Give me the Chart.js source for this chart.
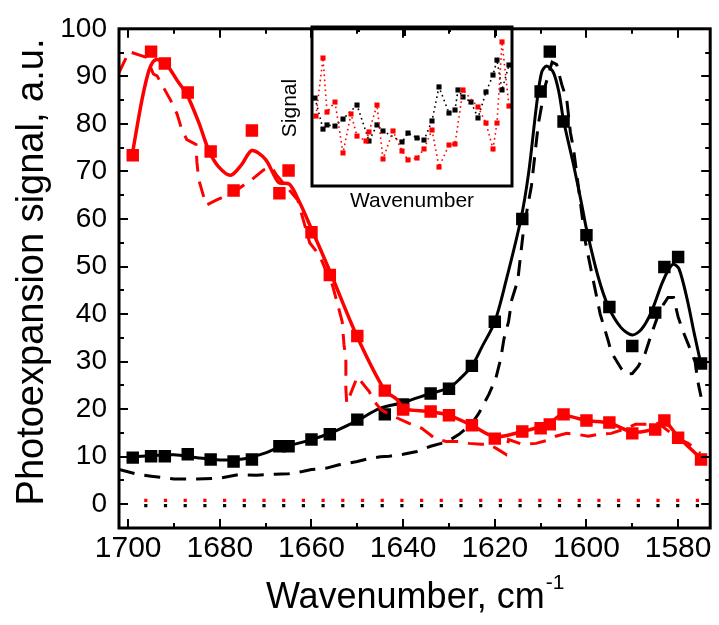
<!DOCTYPE html>
<html>
<head>
<meta charset="utf-8">
<script src="https://cdn.jsdelivr.net/npm/chart.js@4"></script>
<style>
  html, body { margin: 0; padding: 0; background: #fff; }
  #wrap { position: relative; width: 719px; height: 625px; }
  #main { position: absolute; left: 0; top: 0; }
  #inset { position: absolute; left: 270px; top: 15px; }
</style>
</head>
<body>
<div id="wrap">
  <canvas id="main" width="719" height="625"></canvas>
  <canvas id="inset" width="250" height="205"></canvas>
</div>
<script>
// 测量点（方块）
const wavenumbers = [1699, 1695, 1692, 1687, 1682, 1677, 1673, 1667, 1665, 1660, 1656, 1650, 1644, 1640,
  1634, 1630, 1625, 1620, 1614, 1610, 1608, 1605, 1600, 1595, 1590, 1585, 1583, 1580, 1575];
const blackSignal = [9.8, 10.1, 10.1, 10.5, 9.4, 9.0, 9.4, 12.2, 12.2, 13.6, 14.7, 17.8, 18.9, 21.0,
  23.3, 24.3, 29.1, 38.4, 60.0, 86.8, 95.2, 80.5, 56.6, 41.5, 33.3, 40.3, 49.9, 52.0, 29.6];
const redSignal = [73.4, 95.2, 92.7, 86.6, 74.2, 66.0, 78.6, 65.4, 70.2, 57.2, 48.2, 35.4, 23.9, 19.9,
  19.5, 18.7, 16.6, 13.8, 15.3, 16.0, 16.8, 18.9, 17.6, 17.2, 14.9, 15.7, 17.6, 14.0, 9.4];

// 黑色拟合（实线）
const blackFitX = [1699, 1695, 1690, 1685, 1680, 1675, 1670, 1667, 1663, 1660, 1656, 1650, 1645.2, 1640,
  1634, 1630, 1627.8, 1625, 1622.8, 1620, 1617.6, 1614.3, 1612.6, 1610.9, 1609.8, 1608.7, 1607.2, 1606,
  1605, 1602.8, 1601, 1600, 1597.5, 1595.2, 1592.5, 1590, 1588, 1585.9, 1583.5, 1582, 1581, 1579.8,
  1578, 1576.5, 1575];
const blackFitY = [10.0, 10.2, 10.4, 9.8, 9.3, 9.5, 10.8, 12.0, 12.8, 13.6, 14.9, 17.6, 20.1, 21.4,
  23.3, 24.5, 26.2, 29.1, 33.1, 38.4, 46.8, 60.0, 69.8, 83.9, 90.8, 92.2, 90.8, 86.6,
  80.7, 71.3, 62.9, 57.9, 48.0, 41.5, 37.2, 35.6, 36.8, 40.3, 46.5, 49.5, 50.5, 49.5,
  43.0, 36.0, 29.4];

// 黑色模型（虚线）
const blackDashX = [1702, 1698, 1695, 1690, 1685, 1680, 1676, 1672, 1668, 1665, 1662, 1660, 1656.7, 1654,
  1650, 1647.4, 1645, 1643, 1640, 1637, 1634, 1631.7, 1629.3, 1627.8, 1625, 1623.5, 1621.3, 1619.8,
  1618.7, 1618, 1617, 1616.3, 1615, 1613.7, 1612, 1610.5, 1609, 1607.5, 1606.5, 1605.4, 1604.3, 1603.5,
  1602.8, 1600.2, 1598.5, 1597, 1595.2, 1594.6, 1592.4, 1591.3, 1590, 1588.7, 1587.2, 1585.9, 1583.9,
  1582.2, 1581, 1580, 1578.9, 1577.4, 1576.3, 1575.7, 1575];
const blackDashY = [7.3, 6.3, 5.9, 5.3, 5.3, 5.5, 6.2, 6.1, 6.3, 6.4, 6.9, 7.3, 7.6, 8.3,
  9.0, 9.6, 10.0, 10.1, 10.5, 11.1, 12.2, 12.8, 13.8, 14.7, 17.0, 19.1, 23.1, 26.4,
  30.6, 34.8, 38.4, 43.0, 47.0, 58.0, 67.0, 80.0, 88.0, 93.0, 92.5, 88.3, 85.1, 78.2,
  74.6, 55.0, 47.0, 40.0, 34.2, 32.0, 28.5, 27.3, 27.5, 29.0, 31.7, 35.6, 41.0,
  43.5, 43.5, 39.4, 36.3, 32.7, 30.0, 25.8, 22.6];

// 红色拟合（实线）
const redFitX = [1699.1, 1697, 1695.4, 1694, 1691.7, 1689, 1687.2, 1684.6, 1682.4, 1680.2, 1677.6, 1675.2,
  1673, 1670, 1667.2, 1664.8, 1662.6, 1660, 1655.9, 1650.2, 1644.1, 1641.3, 1639.8, 1634.3, 1630, 1625,
  1620, 1614, 1610, 1608, 1605.5, 1600, 1595, 1590, 1585, 1583, 1580, 1575];
const redFitY = [73.6, 85.0, 91.4, 93.5, 92.5, 88.7, 86.2, 80.3, 74.4, 70.9, 69.2, 71.5,
  74.4, 72.5, 67.7, 67.3, 63.5, 57.9, 48.8, 35.6, 24.1, 22.0, 20.1, 19.5, 18.7, 16.6,
  14.2, 15.3, 16.3, 17.0, 18.7, 17.6, 17.1, 15.2, 15.9, 17.4, 14.2, 9.6];

// 红色模型（虚线）
const redDashX = [1702, 1699.8, 1697, 1696, 1694.5, 1693.7, 1690.7, 1689.3, 1688.3, 1687.2, 1685.2, 1685,
  1684.6, 1683, 1680.9, 1677, 1673, 1670.5, 1668.7, 1667.6, 1663, 1660.4, 1658.3, 1655.4, 1654, 1653.3,
  1652.9, 1652.5, 1652.5, 1652.3, 1650, 1647.4, 1646.3, 1644.8, 1643, 1638.7, 1636, 1633, 1630.6, 1628,
  1625.6, 1623, 1621.3, 1619.6, 1617.6, 1617, 1614, 1611, 1608.7, 1606.7, 1604.3, 1602, 1599.6, 1597.4,
  1594.6, 1591.5, 1589.3, 1587, 1584.3, 1580, 1577.8, 1576.3, 1575.2];
const redDashY = [90.8, 95.2, 94.3, 94.0, 90.5, 90.1, 84.9, 82.0, 78.8, 76.7, 75.7, 71.9,
  68.3, 62.9, 63.9, 65.6, 68.3, 70.3, 70.9, 69.2, 64.0, 55.0, 52.4, 46.0, 41.0, 38.4,
  33.5, 30.6, 24.3, 21.2, 26.8, 23.7, 21.6, 19.9, 18.9, 17.0, 16.0, 13.8, 13.2, 13.2,
  12.8, 12.6, 12.6, 11.7, 10.5, 13.6, 12.6, 12.8, 13.4, 14.3, 14.9, 14.7, 14.3, 14.7,
  14.9, 15.9, 16.8, 16.8, 17.0, 13.8, 12.8, 11.7, 10.7];

// 基线（点线）
const baselineX = [1696.5, 1575];
const redBaseline = [0.8, 0.8];
const blackBaseline = [-0.3, -0.3];

// 坐标轴
const xTicksMajor = [1700, 1680, 1660, 1640, 1620, 1600, 1580];
const xTicksMinor = [1690, 1670, 1650, 1630, 1610, 1590];
const yTicksMajor = [0, 10, 20, 30, 40, 50, 60, 70, 80, 90, 100];
const yTicksMinor = [5, 15, 25, 35, 45, 55, 65, 75, 85, 95];

// 插图数据（任意单位）
const insetBlackX = [1.5, 5.5, 7.5, 11.5, 15.5, 22.5, 28.5, 32.5, 35.5, 45, 48, 52.5, 56, 60, 63.5,
  68.5, 71.5, 73, 75.5, 79.5, 83, 87, 90.5, 92.5, 95, 98.5];
const insetBlackY = [55.3, 35.8, 38.4, 37.7, 42.1, 50.9, 28.3, 38.4, 34.6, 27.7, 33.3, 30.2, 28.9, 40.9, 62.3,
  45.9, 47.8, 60.4, 56.0, 52.8, 42.8, 59.1, 69.8, 79.2, 60.4, 76.1];
const insetRedX = [2, 5.5, 7.5, 11.5, 15.5, 19.5, 22.5, 27, 28.5, 32.5, 35.5, 40.5, 45, 48, 52.5, 56,
  60, 63.5, 68.5, 71.5, 75.5, 83, 87, 90.5, 92.5, 95, 98.5];
const insetRedY = [44.0, 80.5, 46.5, 52.8, 20.8, 45.3, 31.4, 28.3, 34.0, 50.9, 17.0, 34.6, 22.0, 16.4, 17.6, 23.3,
  35.2, 11.9, 25.8, 26.4, 60.4, 49.7, 39.6, 23.3, 39.6, 90.6, 50.3];
const insetTicksMajor = [46.5, 92];
const insetTicksMinor = [23.5, 69];

const FONT = '"Liberation Sans", Arial, sans-serif';
const RED = '#ff0000';
const BLACK = '#000000';

const pts = (xs, ys) => xs.map((x, i) => ({ x, y: ys[i] }));

// 边框 + 向内刻度
function frameTicksPlugin(cfg) {
  return {
    id: 'frameTicks',
    afterDatasetsDraw(chart) {
      const { ctx, chartArea: a, scales } = chart;
      ctx.save();
      ctx.strokeStyle = BLACK;
      ctx.lineWidth = 2;
      const xs = scales.x, ys = scales.y;
      const tick = (vals, len, horiz, sides) => {
        vals.forEach(v => {
          ctx.beginPath();
          if (horiz) {
            const px = Math.round(xs.getPixelForValue(v));
            if (sides.includes('b')) { ctx.moveTo(px, a.bottom); ctx.lineTo(px, a.bottom - len); }
            if (sides.includes('t')) { ctx.moveTo(px, a.top); ctx.lineTo(px, a.top + len); }
          } else {
            const py = Math.round(ys.getPixelForValue(v));
            if (sides.includes('l')) { ctx.moveTo(a.left, py); ctx.lineTo(a.left + len, py); }
            if (sides.includes('r')) { ctx.moveTo(a.right, py); ctx.lineTo(a.right - len, py); }
          }
          ctx.stroke();
        });
      };
      tick(cfg.xMajor, cfg.major, true, cfg.xSides);
      tick(cfg.xMinor, cfg.minor, true, cfg.xSides);
      tick(cfg.yMajor || [], cfg.major, false, cfg.ySides || '');
      tick(cfg.yMinor || [], cfg.minor, false, cfg.ySides || '');
      ctx.lineWidth = 3;
      ctx.strokeRect(a.left, a.top, a.right - a.left, a.bottom - a.top);
      ctx.restore();
    }
  };
}

const mainTitles = {
  id: 'mainTitles',
  afterDraw(chart) {
    const { ctx, chartArea: a } = chart;
    ctx.save();
    ctx.fillStyle = BLACK;
    // x 轴标题
    const t1 = 'Wavenumber, cm', t2 = '-1';
    ctx.font = '36px ' + FONT;
    const w1 = ctx.measureText(t1).width;
    ctx.font = '21px ' + FONT;
    const w2 = ctx.measureText(t2).width;
    const x0 = (a.left + a.right) / 2 - (w1 + w2) / 2;
    ctx.textAlign = 'left';
    ctx.textBaseline = 'alphabetic';
    ctx.font = '36px ' + FONT;
    ctx.fillText(t1, x0, 608);
    ctx.font = '21px ' + FONT;
    ctx.fillText(t2, x0 + w1 + 1, 589);
    // y 轴标题
    ctx.translate(33, 272);
    ctx.rotate(-Math.PI / 2);
    ctx.textAlign = 'center';
    ctx.textBaseline = 'middle';
    ctx.font = '38px ' + FONT;
    ctx.fillText('Photoexpansion signal, a.u.', 0, 0);
    ctx.restore();
  }
};

const lineDs = (label, xs, ys, color, width, dash) => ({
  label, data: pts(xs, ys), showLine: true, borderColor: color, backgroundColor: color,
  borderWidth: width, borderDash: dash || [], pointRadius: 0, tension: dash ? 0 : 0.3, fill: false
});
const squareDs = (label, ys, color) => ({
  label, data: pts(wavenumbers, ys), showLine: false, pointStyle: 'rect',
  pointRadius: 8.8, pointBorderWidth: 0, backgroundColor: color, borderColor: color
});

new Chart(document.getElementById('main'), {
  type: 'scatter',
  data: {
    datasets: [
      squareDs('red data', redSignal, RED),
      lineDs('red fit', redFitX, redFitY, RED, 3.5),
      lineDs('red model', redDashX, redDashY, RED, 3, [16, 10]),
      squareDs('black data', blackSignal, BLACK),
      lineDs('black fit', blackFitX, blackFitY, BLACK, 3),
      lineDs('black model', blackDashX, blackDashY, BLACK, 3, [16, 10]),
      { ...lineDs('black baseline', baselineX, blackBaseline, BLACK, 3.2, [3.2, 16.5]), borderCapStyle: 'butt' },
      { ...lineDs('red baseline', baselineX, redBaseline, RED, 3.2, [3.2, 16.5]), borderCapStyle: 'butt' }
    ]
  },
  options: {
    responsive: false,
    animation: false,
    devicePixelRatio: 1,
    layout: { padding: { top: 26, right: 7, left: 0, bottom: 0 } },
    plugins: { legend: { display: false }, tooltip: { enabled: false } },
    scales: {
      x: {
        type: 'linear', min: 1573, max: 1702, reverse: true,
        grid: { display: false, drawTicks: false }, border: { display: false },
        ticks: { stepSize: 20, includeBounds: false, color: BLACK, padding: 3, maxRotation: 0,
          font: { family: FONT, size: 30 }, callback: v => String(v) },
        afterFit(s) { s.height = 97; }
      },
      y: {
        min: -5, max: 100,
        grid: { display: false, drawTicks: false }, border: { display: false },
        ticks: { stepSize: 10, includeBounds: false, color: BLACK, padding: 12,
          font: { family: FONT, size: 28 }, callback: v => String(v) },
        afterFit(s) { s.width = 119; }
      }
    }
  },
  plugins: [frameTicksPlugin({ xMajor: xTicksMajor, xMinor: xTicksMinor, yMajor: yTicksMajor,
    yMinor: yTicksMinor, major: 9, minor: 5, xSides: 'bt', ySides: 'lr' }), mainTitles]
});

// 插图
const insetTitles = {
  id: 'insetTitles',
  afterDraw(chart) {
    const { ctx, chartArea: a } = chart;
    ctx.save();
    ctx.fillStyle = BLACK;
    ctx.font = '21px ' + FONT;
    ctx.textAlign = 'center';
    ctx.textBaseline = 'alphabetic';
    ctx.fillText('Wavenumber', (a.left + a.right) / 2, 192);
    ctx.translate(20, 93);
    ctx.rotate(-Math.PI / 2);
    ctx.textBaseline = 'middle';
    ctx.fillText('Signal', 0, 0);
    ctx.restore();
  }
};
const insetDs = (label, xs, ys, color) => ({
  label, data: pts(xs, ys), showLine: true, borderColor: color, backgroundColor: color,
  borderWidth: 1.6, borderDash: [1.6, 3.4], pointStyle: 'rect', pointRadius: 3.6,
  pointBorderWidth: 0, tension: 0
});

new Chart(document.getElementById('inset'), {
  type: 'scatter',
  data: {
    datasets: [
      insetDs('red', insetRedX, insetRedY, RED),
      insetDs('black', insetBlackX, insetBlackY, BLACK)
    ]
  },
  options: {
    responsive: false,
    animation: false,
    devicePixelRatio: 1,
    layout: { padding: { top: 12, right: 8, left: 42, bottom: 34 } },
    plugins: { legend: { display: false }, tooltip: { enabled: false } },
    scales: {
      x: { type: 'linear', min: 0, max: 100, display: false },
      y: { min: 0, max: 100, display: false }
    }
  },
  plugins: [frameTicksPlugin({ xMajor: insetTicksMajor, xMinor: insetTicksMinor, major: 9, minor: 5, xSides: 't' }), insetTitles]
});
</script>
</body>
</html>
